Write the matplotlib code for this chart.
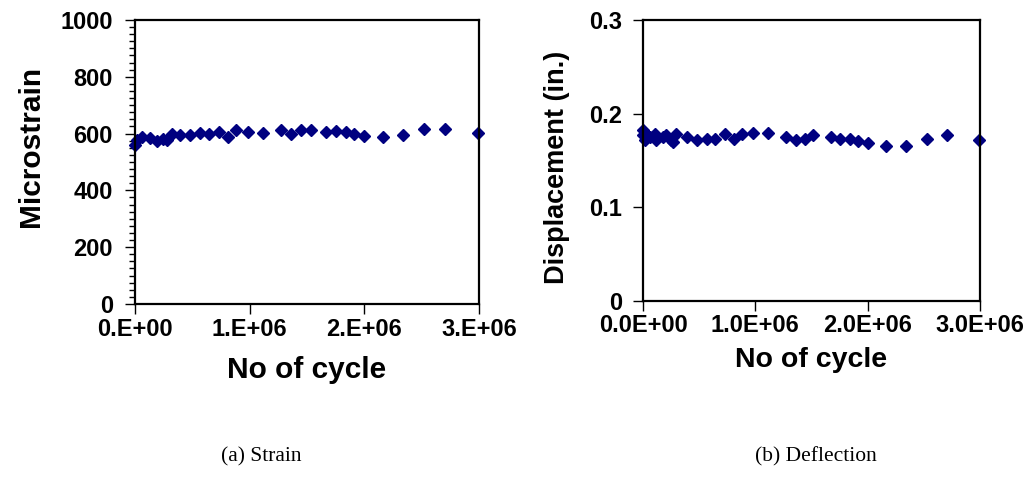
import numpy as np
import matplotlib
matplotlib.use("Agg")
import matplotlib.pyplot as plt
from matplotlib.ticker import MultipleLocator, FuncFormatter

plt.rcParams['font.family'] = ['Liberation Sans', 'DejaVu Sans']

# strain data (cycles, microstrain)
strain_cycles = [0.0e6, 0.015e6, 0.058e6, 0.13e6, 0.19e6, 0.246e6, 0.276e6, 0.319e6,
                 0.39e6, 0.478e6, 0.565e6, 0.646e6, 0.733e6, 0.812e6, 0.884e6, 0.986e6,
                 1.116e6, 1.275e6, 1.362e6, 1.443e6, 1.536e6, 1.667e6, 1.754e6, 1.841e6,
                 1.913e6, 2.0e6, 2.16e6, 2.333e6, 2.52e6, 2.70e6, 2.99e6]
microstrain = [560, 577, 589, 586, 574, 581, 577, 599,
               595, 595, 601, 598, 605, 589, 613, 605,
               601, 613, 599, 613, 613, 607, 609, 605,
               599, 593, 589, 595, 615, 615, 601]

# deflection data (cycles, inches)
defl_cycles = [0.0, 0.0, 0.015e6, 0.03e6, 0.06e6, 0.104e6, 0.119e6, 0.178e6, 0.208e6,
               0.253e6, 0.267e6, 0.297e6, 0.387e6, 0.476e6, 0.565e6, 0.645e6, 0.728e6,
               0.811e6, 0.882e6, 0.98e6, 1.114e6, 1.269e6, 1.358e6, 1.441e6, 1.515e6,
               1.67e6, 1.753e6, 1.842e6, 1.916e6, 1.999e6, 2.163e6, 2.338e6, 2.525e6,
               2.703e6, 2.994e6]
displacement = [0.182, 0.177, 0.1715, 0.1786, 0.175, 0.1786, 0.1715, 0.175, 0.177,
                 0.1715, 0.170, 0.178, 0.175, 0.1715, 0.173, 0.173, 0.178,
                 0.173, 0.1786, 0.179, 0.179, 0.175, 0.1715, 0.173, 0.177,
                 0.175, 0.1726, 0.173, 0.1705, 0.1686, 0.1654, 0.165, 0.173,
                 0.177, 0.1715]

marker_color = '#000080'
TICK_FS = 17

fig = plt.figure(figsize=(10.34, 4.83), dpi=100)

def style_axes(ax, ypad, xpad):
    for sp in ax.spines.values():
        sp.set_linewidth(1.6)
        sp.set_color('black')
    ax.tick_params(direction='out', length=7, width=1.0, labelsize=TICK_FS)
    ax.tick_params(axis='y', pad=ypad)
    ax.tick_params(axis='x', pad=xpad)
    ax.tick_params(which='minor', direction='out', length=4.5, width=1.0)
    for lab in ax.get_xticklabels() + ax.get_yticklabels():
        lab.set_fontweight('bold')

# (a) strain
ax1 = fig.add_axes([0.1306, 0.3706, 0.3327, 0.588])
ax1.plot(strain_cycles, microstrain, linestyle='none', marker='D',
         markersize=6.5, color=marker_color, clip_on=False)
ax1.set_xlim(0, 3e6)
ax1.set_ylim(0, 1000)
ax1.xaxis.set_major_locator(MultipleLocator(1e6))
ax1.yaxis.set_major_locator(MultipleLocator(200))
ax1.yaxis.set_minor_locator(MultipleLocator(25))
ax1.xaxis.set_major_formatter(FuncFormatter(lambda v, p: "%d.E+%02d" % (round(v / 1e6), 0 if v == 0 else 6)))
ax1.set_xlabel("No of cycle", fontsize=21.5, fontweight='bold', labelpad=11)
ax1.set_ylabel("Microstrain", fontsize=21.5, fontweight='bold')
ax1.yaxis.set_label_coords(-0.262, 0.556)
style_axes(ax1, 9, 3)

# (b) deflection
ax2 = fig.add_axes([0.6219, 0.3774, 0.3259, 0.5812])
ax2.plot(defl_cycles, displacement, linestyle='none', marker='D',
         markersize=6.5, color=marker_color, clip_on=False)
ax2.set_xlim(0, 3e6)
ax2.set_ylim(0, 0.3)
ax2.xaxis.set_major_locator(MultipleLocator(1e6))
ax2.yaxis.set_major_locator(MultipleLocator(0.1))
ax2.xaxis.set_major_formatter(FuncFormatter(lambda v, p: "%.1fE+%02d" % (v / 1e6, 0 if v == 0 else 6)))
ax2.yaxis.set_major_formatter(FuncFormatter(lambda v, p: "0" if abs(v) < 1e-9 else "%.1f" % v))
ax2.set_xlabel("No of cycle", fontsize=20.5, fontweight='bold', labelpad=7.5)
ax2.set_ylabel("Displacement (in.)", fontsize=19.5, fontweight='bold')
ax2.yaxis.set_label_coords(-0.218, 0.476)
style_axes(ax2, 8, 2.5)

fig.text(0.253, 0.055, "(a) Strain", fontsize=15.5, family='Liberation Serif', ha='center', va='center')
fig.text(0.789, 0.055, "(b) Deflection", fontsize=15.5, family='Liberation Serif', ha='center', va='center')

fig.savefig("out.png", dpi=100)
